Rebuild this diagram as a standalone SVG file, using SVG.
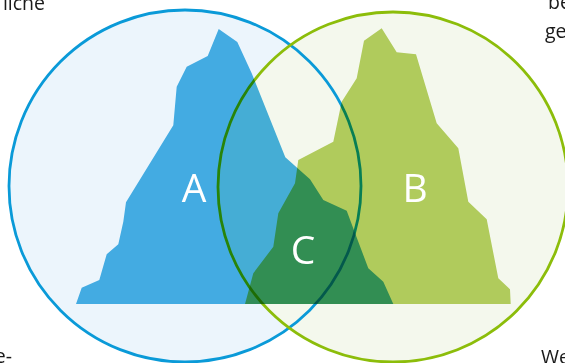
<svg xmlns="http://www.w3.org/2000/svg" width="565" height="363" viewBox="0 0 565 363">
<style>
.frag{font-family:"Open Sans","Liberation Sans",sans-serif;font-size:19.5px;fill:#1a1a1a}
.lbl{font-family:"Open Sans","Liberation Sans",sans-serif;font-size:39px;fill:#ffffff;text-anchor:middle}
.mtn{mix-blend-mode:multiply}
</style>
<rect width="565" height="363" fill="#ffffff"/>
<g id="page-text">
<text class="frag" x="45" y="10" text-anchor="end">liche</text>
<text class="frag" x="548" y="9">be</text>
<text class="frag" x="545" y="38">ge</text>
<text class="frag" x="12" y="363" text-anchor="end">e-</text>
<text class="frag" x="541" y="364">We</text>
</g>
<g id="set-fills">
<circle cx="185" cy="186" r="176" fill="#ecf5fc"/>
<circle cx="393" cy="187" r="175" fill="#f4f8ed"/>
</g>
<g id="connectors">
<circle id="circleA" cx="185" cy="186" r="176" fill="none" stroke="#0a9ad8" stroke-width="2.8"/>
<circle id="circleB" cx="393" cy="187" r="175" fill="none" stroke="#8cbd0a" stroke-width="2.8"/>
</g>
<g id="mountainA" class="mtn">
<path fill="#48b2e5" d="M76,304 L81.7,287.7 L99.3,280 L106.7,254.3 L118.3,244.3 L123.3,221.7 L126,202.3 L173.3,125.3 L176.7,86.7 L186.7,66.7 L207.7,56 L218.7,29 L237.3,42 L251.7,73.3 L285.3,157.3 L310,179.3 L323.3,200 L346.7,210.7 L355,233 L368.3,268.3 L383.3,281.7 L393.3,304 Z"/>
</g>
<g id="mountainB" class="mtn">
<path fill="#b8d163" d="M245,304 L253.3,273.3 L273.3,246.7 L278.3,213.3 L295,183.3 L298.3,160 L333.3,141.7 L341.7,101.7 L356.7,78.3 L364,40.7 L381.7,28.3 L396.7,52.3 L416,54.3 L436.7,123.3 L458.3,148.3 L468.3,201.7 L486.7,219.3 L498.3,278.3 L510,289.3 L510.7,304 Z"/>
</g>
<g id="labelA"><text class="lbl" x="194" y="201.5">A</text></g>
<g id="labelB"><text class="lbl" x="415" y="201.5">B</text></g>
<g id="labelC"><text class="lbl" x="303" y="264">C</text></g>
</svg>
